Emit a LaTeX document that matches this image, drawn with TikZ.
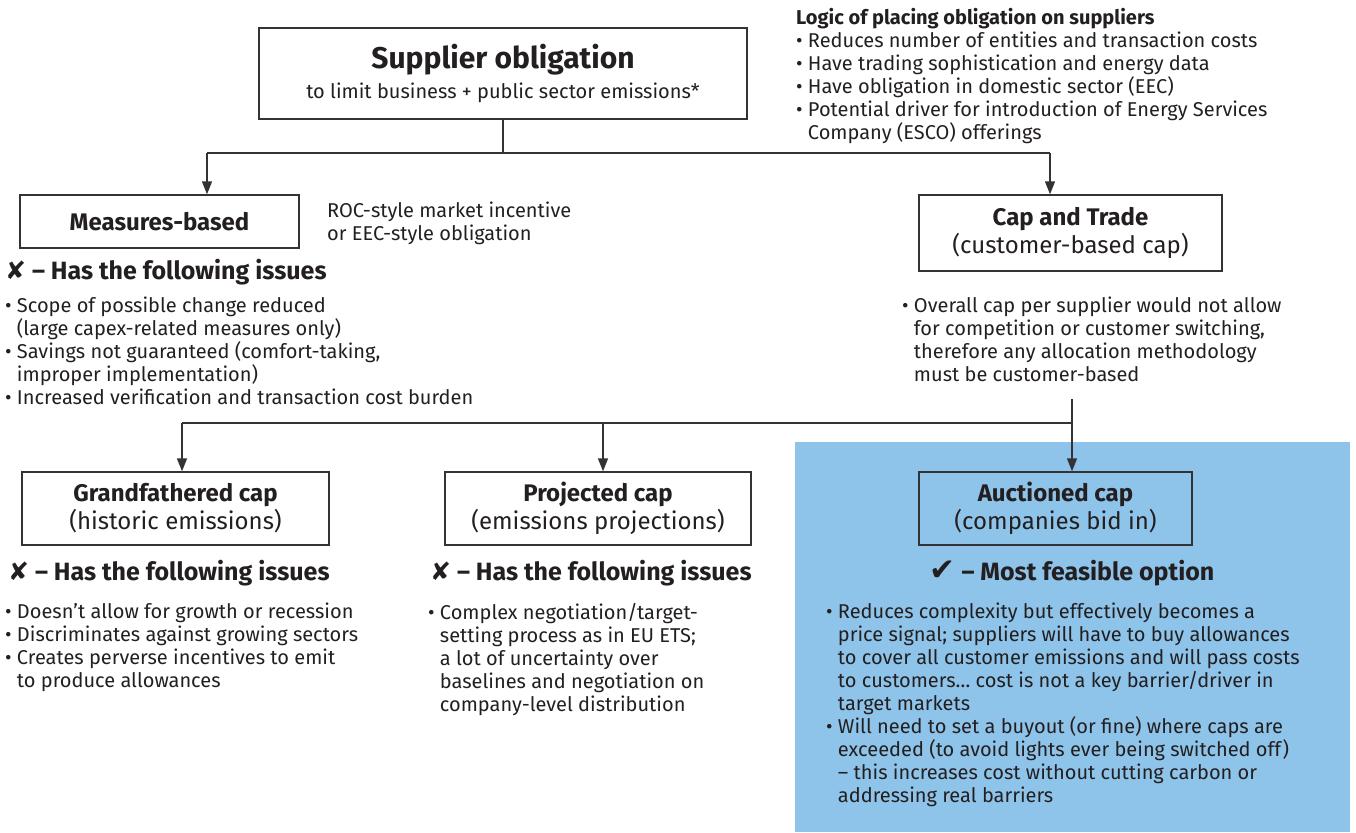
\documentclass[tikz,border=0pt]{standalone}
\usepackage{fontspec}
\setmainfont{Fira Sans}
\newfontfamily\symfont{DejaVu Sans}
\usetikzlibrary{arrows.meta}
\definecolor{ink}{HTML}{231F20}
\definecolor{edge}{HTML}{333333}
\definecolor{sky}{HTML}{8EC4EA}
\newcommand{\bodyfnt}{\fontsize{20}{23}\selectfont}
\newcommand{\boxfnt}{\fontsize{24}{28}\selectfont}
\newcommand{\hdrfnt}{\fontsize{25}{28}\selectfont\bfseries}
\newcommand{\titlefnt}{\fontsize{30}{34}\selectfont\bfseries}
\newcommand{\ind}{\phantom{• }}
\begin{document}
\begin{tikzpicture}[x=1pt,y=-1pt,
  box/.style={draw=edge,line width=1.4pt,inner sep=0pt,align=center,text=ink,font=\boxfnt},
  txt/.style={anchor=north west,inner sep=0pt,align=left,text=ink,font=\bodyfnt},
  hdr/.style={anchor=west,inner sep=0pt,text=ink,font=\hdrfnt},
  conn/.style={draw=edge,line width=1.4pt},
  arr/.style={conn,-{Triangle[length=13pt,width=10pt]}}]
\useasboundingbox (0,0) rectangle (1356,832);
\fill[sky] (795,442) rectangle (1350,832);

% boxes
\node[box,minimum width=488pt,minimum height=91pt,font=\bodyfnt] (sup) at (503,73.5)
  {{\titlefnt Supplier obligation}\\[7pt]to limit business + public sector emissions*};
\node[box,minimum width=279pt,minimum height=53pt] (meas) at (159.5,221.5) {\bfseries Measures-based};
\node[box,minimum width=303pt,minimum height=76pt] (cap) at (1070.5,233) {{\bfseries Cap and Trade}\\(customer-based cap)};
\node[box,minimum width=307pt,minimum height=73pt] (grand) at (175.5,508.5) {{\bfseries Grandfathered cap}\\(historic emissions)};
\node[box,minimum width=306pt,minimum height=73pt] (proj) at (598,508.5) {{\bfseries Projected cap}\\(emissions projections)};
\node[box,minimum width=273pt,minimum height=73pt] (auc) at (1055.5,508.5) {{\bfseries Auctioned cap}\\(companies bid in)};

% texts
\node[txt] (logic) at (796,8) {{\bfseries Logic of placing obligation on suppliers}\\
• Reduces number of entities and transaction costs\\
• Have trading sophistication and energy data\\
• Have obligation in domestic sector (EEC)\\
• Potential driver for introduction of Energy Services\\
\ind Company (ESCO) offerings};
\node[txt] (roc) at (327,202) {ROC-style market incentive\\or EEC-style obligation};
\node[hdr] (h1) at (5,272) {{\symfont ✘} – Has the following issues};
\node[txt] (mb) at (5,297) {• Scope of possible change reduced\\
\ind(large capex-related measures only)\\
• Savings not guaranteed (comfort-taking,\\
\ind improper implementation)\\
• Increased verification and transaction cost burden};
\node[txt] (cb) at (902,297) {• Overall cap per supplier would not allow\\
\ind for competition or customer switching,\\
\ind therefore any allocation methodology\\
\ind must be customer-based};
\node[hdr] (h2) at (8,573) {{\symfont ✘} – Has the following issues};
\node[hdr] (h3) at (430,573) {{\symfont ✘} – Has the following issues};
\node[hdr,anchor=center] (h4) at (1072,573) {{\symfont\fontsize{31}{31}\selectfont ✔} – Most feasible option};
\node[txt] (gb) at (5,603) {• Doesn’t allow for growth or recession\\
• Discriminates against growing sectors\\
• Creates perverse incentives to emit\\
\ind to produce allowances};
\node[txt] (pb) at (428,603) {• Complex negotiation/target-\\
\ind setting process as in EU ETS;\\
\ind a lot of uncertainty over\\
\ind baselines and negotiation on\\
\ind company-level distribution};
\node[txt] (ab) at (826,603) {• Reduces complexity but effectively becomes a\\
\ind price signal; suppliers will have to buy allowances\\
\ind to cover all customer emissions and will pass costs\\
\ind to customers… cost is not a key barrier/driver in\\
\ind target markets\\
• Will need to set a buyout (or fine) where caps are\\
\ind exceeded (to avoid lights ever being switched off)\\
\ind – this increases cost without cutting carbon or\\
\ind addressing real barriers};

% connectors
\coordinate (tl) at (207,153);
\coordinate (tr) at (1050,153);
\draw[conn] (sup.south) -- (sup.south |- tl);
\draw[conn] (tl) -- (tr);
\draw[arr] (tl) -- (tl |- meas.north);
\draw[arr] (tr) -- (tr |- cap.north);
\coordinate (cs) at (1072,399);
\coordinate (bl) at (182,423);
\coordinate (bm) at (603,423);
\draw[arr] (cs) -- (cs |- auc.north);
\draw[conn] (bl) -- (bl -| cs);
\draw[arr] (bl) -- (bl |- grand.north);
\draw[arr] (bm) -- (bm |- proj.north);
\end{tikzpicture}
\end{document}
